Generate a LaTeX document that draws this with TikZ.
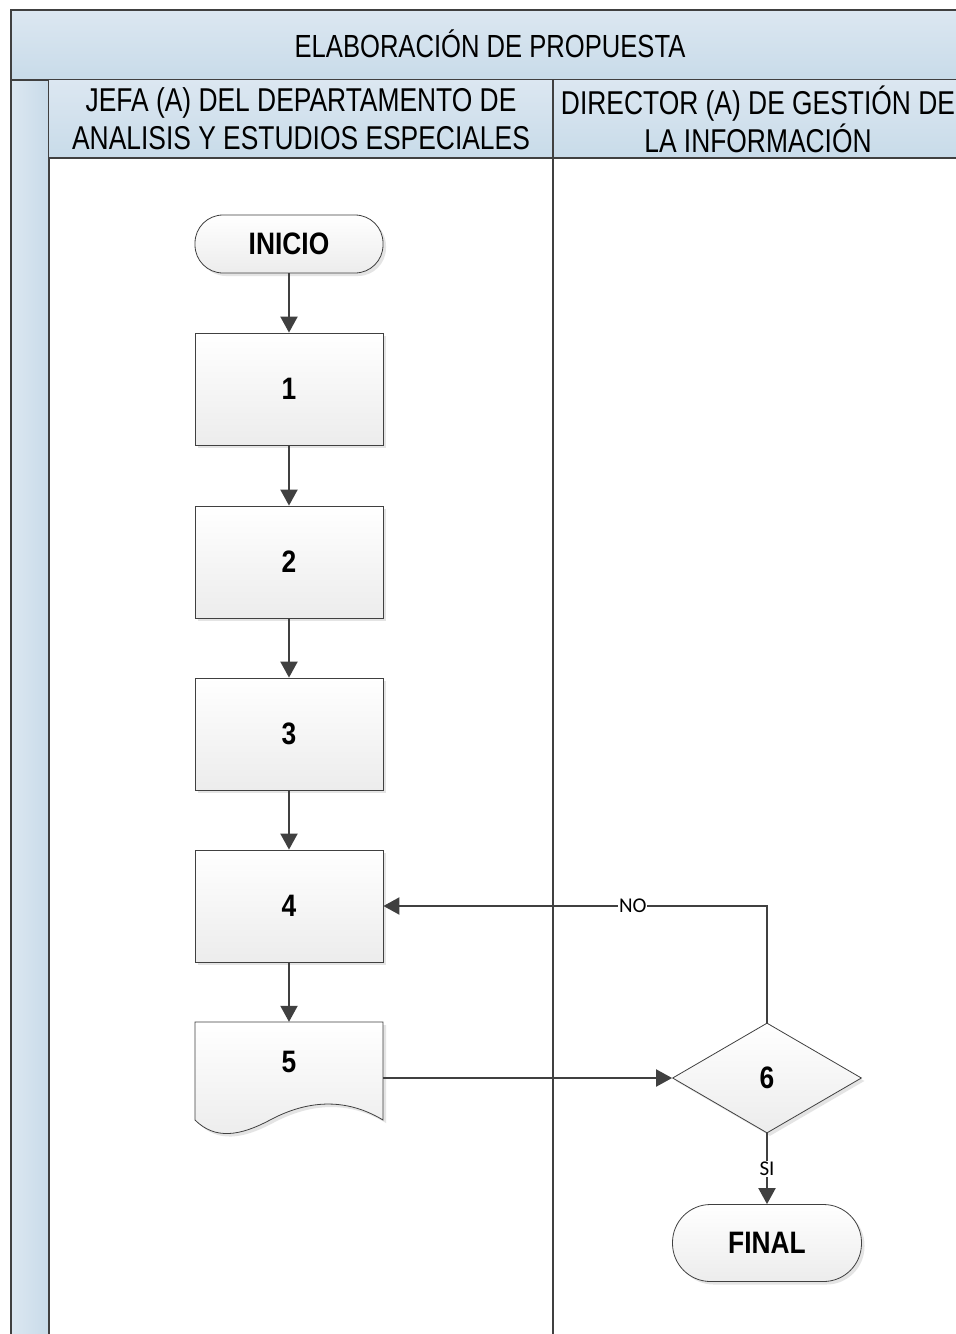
\documentclass[tikz,border=0pt]{standalone}
\usepackage{fontspec}
\setmainfont{Liberation Sans}[FakeStretch=0.8]
\newfontfamily\nodefont{Liberation Sans}[FakeStretch=0.85]
\newfontfamily\smallfont{Carlito}
\usetikzlibrary{arrows.meta,shapes.geometric,shadows,calc}
\definecolor{frame}{HTML}{404040}
\definecolor{hdtop}{HTML}{DCE7F1}
\definecolor{hdbot}{HTML}{C8DBE9}
\definecolor{boxbot}{HTML}{ECECEC}
\tikzset{
  x=1pt,y=-1pt,
  frameline/.style={draw=frame,line width=2.4pt},
  hdr/.style={top color=hdtop,bottom color=hdbot},
  shad/.style={drop shadow={shadow xshift=3pt,shadow yshift=-3pt,fill=black!15,opacity=0.7}},
  procbox/.style={draw=frame,line width=0.8pt,top color=white,bottom color=boxbot,shad,
    minimum width=188pt,minimum height=112pt,font=\nodefont\bfseries\fontsize{31}{33}\selectfont},
  termbox/.style={draw=frame,line width=0.8pt,top color=white,bottom color=boxbot,shad,rounded corners=28pt,
    minimum width=188pt,minimum height=58pt,font=\nodefont\bfseries\fontsize{31}{33}\selectfont},
  decbox/.style={diamond,draw=frame,line width=0.8pt,top color=white,bottom color=boxbot,shad,
    minimum width=189pt,minimum height=110pt,inner sep=0pt,font=\nodefont\bfseries\fontsize{31}{33}\selectfont},
  conn/.style={draw=frame,line width=2pt,-{Triangle[length=16pt,width=17pt]}},
  lbl/.style={fill=white,inner sep=1pt,font=\smallfont\fontsize{21}{23}\selectfont},
  hdtext/.style={font=\fontsize{33}{38}\selectfont,align=center}
}
\begin{document}
\begin{tikzpicture}
\useasboundingbox (0,0) rectangle (956,1334);
\fill[white] (0,0) rectangle (956,1334);
% left strip
\shade[left color=hdtop,right color=hdbot] (11,80) rectangle (49,1345);
\draw[frameline] (11,80) -- (11,1345);
\draw[frameline] (49,80) -- (49,1345);
% title band
\path[hdr] (11,10) rectangle (965,80);
\draw[frameline] (11,80) -- (11,10) -- (965,10);
\draw[frameline] (11,80) -- (965,80);
\node[font=\fontsize{32}{38}\selectfont] (title) at (490,44) {ELABORACIÓN DE PROPUESTA};
% lane headers
\path[hdr] (49,80) rectangle (965,158);
\draw[frameline] (49,158) -- (965,158);
\draw[frameline] (553,80) -- (553,1345);
\node[hdtext] (lane1) at (301,119) {JEFA (A) DEL DEPARTAMENTO DE\\ANALISIS Y ESTUDIOS ESPECIALES};
\node[hdtext] (lane2) at (758,119) {DIRECTOR (A) DE GESTIÓN DE\\LA INFORMACIÓN};
% nodes
\node[termbox] (ini) at (289,244) {INICIO};
\node[procbox] (n1) at (289,389) {1};
\node[procbox] (n2) at (289,562) {2};
\node[procbox] (n3) at (289,734) {3};
\node[procbox] (n4) at (289,906) {4};
% document shape 5
\fill[black!15,opacity=0.7,xshift=3pt,yshift=-3pt] (195,1022) -- (383,1022) -- (383,1120)
  .. controls (340,1094) and (300,1104) .. (270,1120) .. controls (240,1136) and (215,1140) .. (195,1120) -- cycle;
\shade[top color=white,bottom color=boxbot,draw=frame,line width=0.8pt] (195,1022) -- (383,1022) -- (383,1120)
  .. controls (340,1094) and (300,1104) .. (270,1120) .. controls (240,1136) and (215,1140) .. (195,1120) -- cycle;
\node[draw=none,minimum width=188pt,minimum height=98pt,inner sep=0pt] (n5) at (289,1071) {};
\node[font=\nodefont\bfseries\fontsize{31}{33}\selectfont] (n5t) at (289,1062) {5};
\node[decbox] (n6) at (767,1078) {6};
\node[termbox,minimum width=189pt,minimum height=77pt,rounded corners=38pt] (fin) at (767,1243) {FINAL};
% connectors
\draw[conn] (ini) -- (n1);
\draw[conn] (n1) -- (n2);
\draw[conn] (n2) -- (n3);
\draw[conn] (n3) -- (n4);
\draw[conn] (n4) -- (n5);
\draw[conn] (n5.east |- n6.west) -- (n6.west);
\draw[conn] (n6.north) -- (n6.north |- n4.east) -- node[lbl,pos=0.35] {NO} (n4.east);
\draw[conn] (n6.south) -- node[lbl,pos=0.5] {SI} (fin.north);
\end{tikzpicture}
\end{document}
